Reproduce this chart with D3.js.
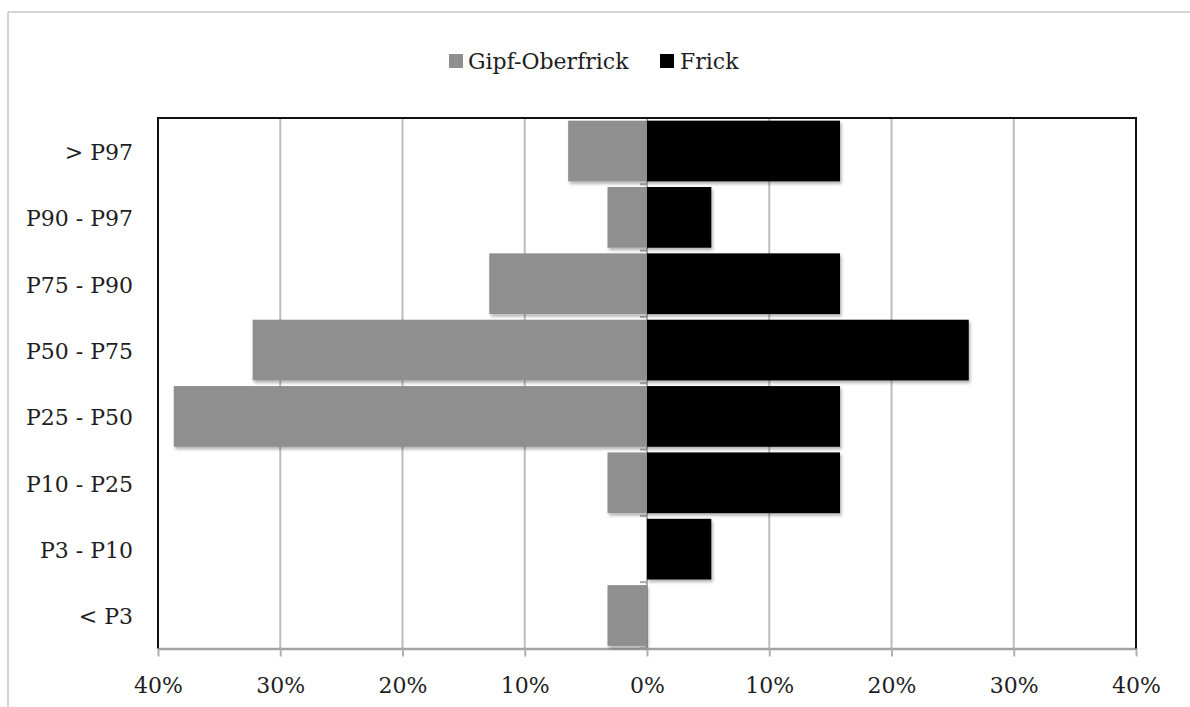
<!DOCTYPE html>
<html>
<head>
<meta charset="utf-8">
<script src="https://cdn.jsdelivr.net/npm/d3@7"></script>
<style>
  html, body { margin: 0; padding: 0; background: #fff; }
  svg { display: block; }
  text { font-family: "DejaVu Serif", serif; font-size: 22px; fill: #1e1e1e; }
</style>
</head>
<body>
<svg id="chart" width="1190" height="707"></svg>
<script>
// Percentile classes, top to bottom
const categories = ["> P97", "P90 - P97", "P75 - P90", "P50 - P75", "P25 - P50", "P10 - P25", "P3 - P10", "< P3"];
// Share of children per class (%)
const gipfOberfrick = [6.45, 3.23, 12.90, 32.26, 38.71, 3.23, 0, 3.23];
const frick = [15.79, 5.26, 15.79, 26.32, 15.79, 15.79, 5.26, 0];
const tickValues = [-40, -30, -20, -10, 0, 10, 20, 30, 40];
const seriesNames = ["Gipf-Oberfrick", "Frick"];
const seriesColors = ["#8f8f8f", "#000000"];

const svg = d3.select("#chart");
const plot = { left: 158, top: 118, right: 1136, bottom: 648.5 };

const x = d3.scaleLinear().domain([-40, 40]).range([plot.left, plot.right]);
const y = d3.scaleBand().domain(categories).range([plot.top, plot.bottom]).paddingInner(0.085).paddingOuter(0.04);

// soft drop shadow under the bars
const defs = svg.append("defs");
const f = defs.append("filter").attr("id", "shadow").attr("x", "-10%").attr("y", "-10%").attr("width", "130%").attr("height", "140%");
f.append("feDropShadow").attr("dx", 1.5).attr("dy", 2.5).attr("stdDeviation", 1.6)
  .attr("flood-color", "#000").attr("flood-opacity", 0.3);

// outer frame (top and left edges)
svg.append("line").attr("x1", 8).attr("x2", 1190).attr("y1", 12).attr("y2", 12)
  .attr("stroke", "#c6c6c6").attr("stroke-width", 1.5);
svg.append("line").attr("x1", 8).attr("x2", 8).attr("y1", 12).attr("y2", 707)
  .attr("stroke", "#c6c6c6").attr("stroke-width", 1.5);

// vertical gridlines
svg.append("g").selectAll("line")
  .data(tickValues.filter(d => d !== 0 && Math.abs(d) !== 40))
  .join("line")
  .attr("x1", d => x(d)).attr("x2", d => x(d))
  .attr("y1", plot.top).attr("y2", plot.bottom)
  .attr("stroke", "#bcbcbc").attr("stroke-width", 2);

// bottom axis
const xAxis = d3.axisBottom(x).tickValues(tickValues).tickSize(8).tickSizeOuter(0)
  .tickFormat(d => Math.abs(d) + "%");
const gx = svg.append("g").attr("transform", `translate(0,${plot.bottom})`).call(xAxis);
gx.select(".domain").attr("stroke", "#a2a2a2").attr("stroke-width", 2.5);
gx.selectAll(".tick line").attr("stroke", "#b0b0b0").attr("stroke-width", 2);
gx.selectAll(".tick text").attr("y", 0).attr("dy", 0)
  .attr("transform", "translate(0,44)")
  .style("font-family", "DejaVu Serif, serif").style("font-size", "22px").attr("fill", "#1e1e1e");

// category axis at zero, ticks at class boundaries
const zeroX = x(0);
svg.append("line").attr("x1", zeroX).attr("x2", zeroX).attr("y1", plot.top).attr("y2", plot.bottom)
  .attr("stroke", "#ababab").attr("stroke-width", 2);
const step = y.step();
const boundaries = d3.range(categories.length + 1).map(i => plot.top + (plot.bottom - plot.top) * i / categories.length);
svg.append("g").selectAll("line").data(boundaries).join("line")
  .attr("x1", zeroX - 7).attr("x2", zeroX)
  .attr("y1", d => d).attr("y2", d => d)
  .attr("stroke", "#ababab").attr("stroke-width", 2);

// bars
const bars = svg.append("g").attr("filter", "url(#shadow)");
bars.selectAll("rect.g").data(categories).join("rect").attr("class", "g")
  .attr("x", (d, i) => x(-gipfOberfrick[i]))
  .attr("width", (d, i) => zeroX - x(-gipfOberfrick[i]))
  .attr("y", d => y(d)).attr("height", y.bandwidth())
  .attr("fill", seriesColors[0]);
bars.selectAll("rect.f").data(categories).join("rect").attr("class", "f")
  .attr("x", zeroX)
  .attr("width", (d, i) => x(frick[i]) - zeroX)
  .attr("y", d => y(d)).attr("height", y.bandwidth())
  .attr("fill", seriesColors[1]);

// plot border: top, left and right in black
svg.append("path")
  .attr("d", `M${plot.left},${plot.bottom} V${plot.top} H${plot.right} V${plot.bottom}`)
  .attr("fill", "none").attr("stroke", "#111").attr("stroke-width", 2);

// category labels
svg.append("g").selectAll("text").data(categories).join("text")
  .attr("x", 133).attr("y", d => y(d) + y.bandwidth() / 2 + 9)
  .attr("text-anchor", "end").text(d => d);

// legend
const legend = svg.append("g");
const legendItems = [{ x: 449, tx: 468 }, { x: 660, tx: 680 }];
seriesNames.forEach((name, i) => {
  legend.append("rect").attr("x", legendItems[i].x).attr("y", 54).attr("width", 14).attr("height", 14)
    .attr("fill", seriesColors[i]);
  legend.append("text").attr("x", legendItems[i].tx).attr("y", 69).text(name);
});
</script>
</body>
</html>
